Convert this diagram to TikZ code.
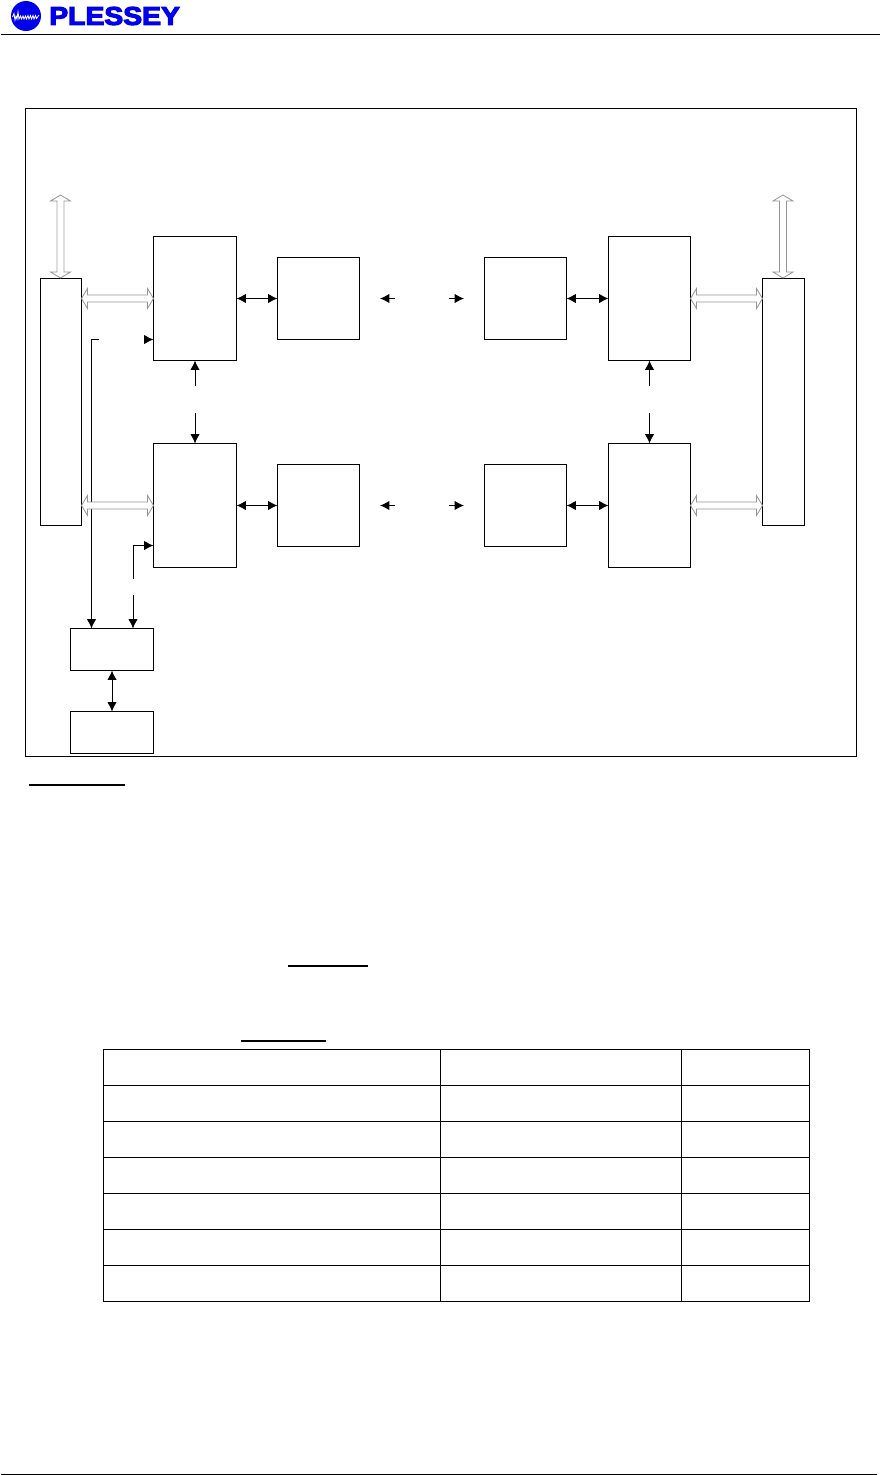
\documentclass[tikz,border=0pt]{standalone}
\usepackage{fontspec}
\setsansfont{Liberation Sans}
\newfontfamily\brandfont[FakeBold=4]{Liberation Sans Bold}
\usetikzlibrary{arrows.meta,calc}
\definecolor{plessey}{RGB}{0,0,235}
\definecolor{busgray}{RGB}{150,150,150}
\definecolor{buslight}{RGB}{222,222,222}
\tikzset{
  x=0.75pt,y=-0.75pt,
  block/.style={draw=black,line width=0.75pt,inner sep=0pt,outer sep=0pt,anchor=north west},
  sig/.style={draw=black,line width=0.75pt,{Latex[length=7pt,width=7pt]}-{Latex[length=7pt,width=7pt]}},
  sigone/.style={draw=black,line width=0.75pt,-{Latex[length=7pt,width=7pt]}},
  bus/.style={draw=busgray,fill=white,line width=0.6pt,line join=miter},
  buspale/.style={draw=buslight,line width=1.5pt},
  rule/.style={draw=black,line width=0.75pt},
  under/.style={draw=black,line width=1.5pt},
}
\newcommand{\hbus}[3][bus]{%
  \draw[#1] let \p1=(#2),\p2=(#3) in
    (\x1,\y1) -- ++(4.5pt,7.5pt) -- ++(0,-4.9pt) -- (\x2-4.5pt,\y1+2.6pt) -- ++(0,4.9pt) -- (\x2,\y2)
    -- ++(-4.5pt,-7.5pt) -- ++(0,4.9pt) -- (\x1+4.5pt,\y1-2.6pt) -- ++(0,-4.9pt) -- cycle;}
\newcommand{\vbus}[3][bus]{%
  \draw[#1] let \p1=(#2),\p2=(#3) in
    (\x1,\y1) -- ++(7.5pt,-4.5pt) -- ++(-4.9pt,0) -- (\x1+2.6pt,\y2+4.5pt) -- ++(4.9pt,0) -- (\x2,\y2)
    -- ++(-7.5pt,4.5pt) -- ++(4.9pt,0) -- (\x1-2.6pt,\y1-4.5pt) -- ++(-4.9pt,0) -- cycle;}
\newcommand{\boxat}[5]{\node[block,minimum width=#4*0.75pt,minimum height=#5*0.75pt] (#1) at (#2,#3) {};}
\begin{document}
\begin{tikzpicture}
\useasboundingbox (0,0) rectangle (882,1475);
% header
\node[circle,fill=plessey,inner sep=0pt,minimum size=22.5pt] (logo) at (26,16) {};
\draw[white,line width=0.6pt] (12.5,17) -- (14,13.5) -- (15,20) -- (16,16) -- (17,19) -- (18,12) -- (19,19) -- (20.5,16) -- (21.5,19) -- (23,16) -- (24,19) -- (25.5,16) -- (26.5,19) -- (28,15.5) -- (29,19) -- (30.5,15.5) -- (31.5,19) -- (33,15.5) -- (34,19) -- (35.5,15.5) -- (36.5,18.5) -- (39,15);
\node[anchor=west,inner sep=0pt,text=plessey] (brand) at (49,16) {\resizebox{98pt}{13.5pt}{\brandfont PLESSEY}};
\coordinate (hl) at (1,34.5); \coordinate (hr) at (880,34.5);
\draw[rule] (hl) -- (hr);
\coordinate (fl) at (1,1474); \coordinate (fr) at (877,1474);
\draw[rule] (fl) -- (fr);
% frame
\coordinate (fa) at (25.5,108.5); \coordinate (fb) at (856.5,756);
\draw[block] (fa) rectangle (fb);
% blocks
\boxat{L}{40.5}{278.5}{41}{247}
\boxat{R}{762.5}{278.5}{41.5}{247}
\boxat{Aa}{153.5}{236.5}{83}{124}
\boxat{Ab}{153.5}{443.5}{83}{124}
\boxat{Ba}{277.5}{257.5}{82}{82}
\boxat{Bb}{277.5}{464.5}{82}{82}
\boxat{Ca}{484.5}{257.5}{82}{82}
\boxat{Cb}{484.5}{464.5}{82}{82}
\boxat{Da}{608.5}{236.5}{82}{124}
\boxat{Db}{608.5}{443.5}{82}{124}
\boxat{Ea}{70.5}{628.5}{83}{42}
\boxat{Eb}{70.5}{711.5}{83}{42}
% signal connectors
\draw[sig] (Aa.east |- Ba.west) -- (Ba.west);
\draw[sig] (Ab.east |- Bb.west) -- (Bb.west);
\draw[sig] (Ca.east) -- (Da.west |- Ca.east);
\draw[sig] (Cb.east) -- (Db.west |- Cb.east);
\draw[sig] (Ea.south) -- (Eb.north);
\coordinate (m1) at (395,298.5); \coordinate (m2) at (449,298.5);
\coordinate (m3) at (395,505.5); \coordinate (m4) at (449,505.5);
\coordinate (m1t) at (380,298.5); \coordinate (m2t) at (464,298.5);
\coordinate (m3t) at (380,505.5); \coordinate (m4t) at (464,505.5);
\draw[sigone] (m1) -- (m1t);
\draw[sigone] (m2) -- (m2t);
\draw[sigone] (m3) -- (m3t);
\draw[sigone] (m4) -- (m4t);
\coordinate (ua) at (195,386); \coordinate (ub) at (195,413);
\coordinate (va) at (649.5,386); \coordinate (vb) at (649.5,413);
\draw[sigone] (ua) -- (ua |- Aa.south);
\draw[sigone] (ub) -- (ub |- Ab.north);
\draw[sigone] (va) -- (va |- Da.south);
\draw[sigone] (vb) -- (vb |- Db.north);
\coordinate (w1) at (99,339.5); \coordinate (w2) at (91.5,339.5); \coordinate (w3) at (91.5,628);
\draw[sigone] (w1) -- (w2) -- (w3 |- Ea.north);
\coordinate (s1) at (145,339.5);
\draw[sigone] (s1) -- (s1 -| Aa.west);
\coordinate (t1) at (133,579); \coordinate (t2) at (133,545.5);
\draw[sigone] (t1) -- (t2) -- (t2 -| Ab.west);
\coordinate (t3) at (133,595);
\draw[sigone] (t3) -- (t3 |- Ea.north);
% buses
\coordinate (b1a) at (81.5,298.5); \coordinate (b1b) at (153.5,298.5);
\coordinate (b2a) at (81.5,505.5); \coordinate (b2b) at (153.5,505.5);
\coordinate (b3a) at (690.5,298.5); \coordinate (b3b) at (762.5,298.5);
\coordinate (b4a) at (690.5,505.5); \coordinate (b4b) at (762.5,505.5);
\coordinate (b5a) at (60.5,195); \coordinate (b5b) at (60.5,278);
\coordinate (b6a) at (783,195); \coordinate (b6b) at (783,278);
\hbus{b1a}{b1b}
\hbus{b2a}{b2b}
\hbus{b3a}{b3b}
\hbus{b4a}{b4b}
\vbus{b5a}{b5b}
\vbus{b6a}{b6b}
\draw[buspale] ([shift={(-3.5,7)}]b5a) -- ([shift={(-3.5,-7)}]b5b);
\draw[buspale] ([shift={(3.5,7)}]b5a) -- ([shift={(3.5,-7)}]b5b);
% underlines
\coordinate (u1a) at (29,784.5); \coordinate (u1b) at (125,784.5);
\coordinate (u2a) at (288,965.5); \coordinate (u2b) at (368,965.5);
\coordinate (u3a) at (241,1040.5); \coordinate (u3b) at (326,1040.5);
\draw[under] (u1a) -- (u1b);
\draw[under] (u2a) -- (u2b);
\draw[under] (u3a) -- (u3b);
% table
\coordinate (ta) at (103.5,1049.5); \coordinate (tb) at (809,1301.5);
\draw[rule] (ta) rectangle (tb);
\foreach \yy in {1085.5,1121.5,1157.5,1193.5,1229.5,1265.5} \draw[rule] (103.5,\yy) -- (809,\yy);
\foreach \xx in {440.5,681.5} \draw[rule] (\xx,1049.5) -- (\xx,1301.5);
\end{tikzpicture}
\end{document}
